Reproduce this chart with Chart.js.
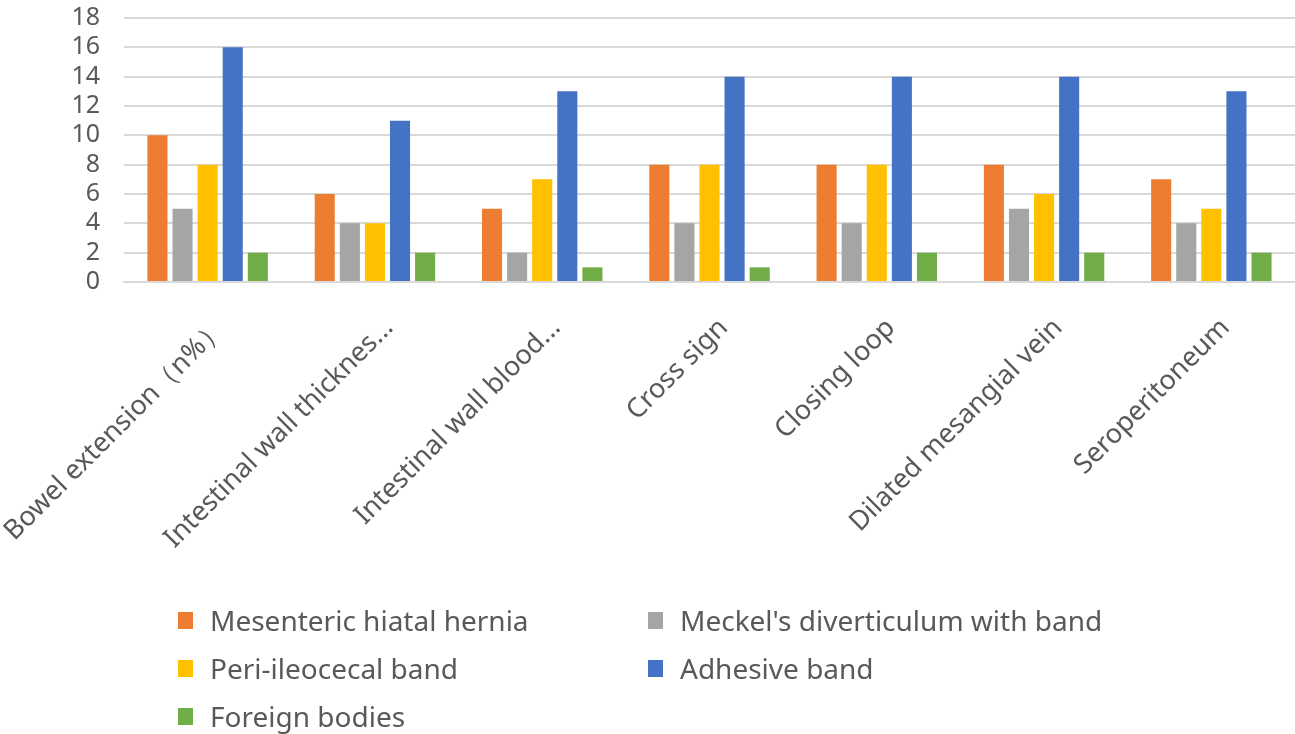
<!DOCTYPE html>
<html>
<head>
<meta charset="utf-8">
<script src="https://cdn.jsdelivr.net/npm/chart.js@4.4.1/dist/chart.umd.min.js"></script>
<style>
  html, body { margin: 0; padding: 0; background: #fff; }
  #wrap { position: relative; width: 1295px; height: 734px; overflow: hidden; }
  #chartBox { position: absolute; left: 0; top: 0; width: 1295px; height: 582px; }
  #legend { position: absolute; left: 0; top: 0; width: 1295px; height: 734px; pointer-events: none; }
  .item { position: absolute; display: flex; align-items: center; font-family: "Noto Sans", sans-serif; font-size: 28px; color: #595959; white-space: nowrap; height: 40px; }
  .swatch { width: 15px; height: 17px; margin-right: 17px; }
</style>
</head>
<body>
<div id="wrap">
  <div id="chartBox"><canvas id="chart"></canvas></div>
  <div id="legend"></div>
</div>
<script>
// categories (x-axis)
const categories = [
  "Bowel extension（n%）",
  "Intestinal wall thicknes...",
  "Intestinal wall blood...",
  "Cross sign",
  "Closing loop",
  "Dilated mesangial vein",
  "Seroperitoneum"
];

// counts per series
const mesentericHernia = [10, 6, 5, 8, 8, 8, 7];
const meckelBand = [5, 4, 2, 4, 4, 5, 4];
const periIleocecal = [8, 4, 7, 8, 8, 6, 5];
const adhesiveBand = [16, 11, 13, 14, 14, 14, 13];
const foreignBodies = [2, 2, 1, 1, 2, 2, 2];

const seriesNames = [
  "Mesenteric hiatal hernia",
  "Meckel's diverticulum with band",
  "Peri-ileocecal band",
  "Adhesive band",
  "Foreign bodies"
];
const seriesData = [mesentericHernia, meckelBand, periIleocecal, adhesiveBand, foreignBodies];
const colors = ["#ED7D31", "#A5A5A5", "#FFC000", "#4472C4", "#70AD47"];

const yTicks = [0, 2, 4, 6, 8, 10, 12, 14, 16, 18];

const FONT = "'Noto Sans', sans-serif";
const GREY_TEXT = "#595959";

const datasets = seriesData.map((d, i) => ({
  label: seriesNames[i],
  data: d,
  backgroundColor: colors[i],
  borderWidth: 0,
  categoryPercentage: 0.75,
  barPercentage: 0.8
}));

new Chart(document.getElementById("chart"), {
  type: "bar",
  data: { labels: categories, datasets: datasets },
  options: {
    responsive: true,
    maintainAspectRatio: false,
    animation: false,
    layout: { padding: { top: 18, right: 0, left: 0, bottom: 0 } },
    plugins: {
      legend: { display: false },
      tooltip: { enabled: false }
    },
    scales: {
      x: {
        grid: { display: false, drawTicks: false },
        border: { display: true, color: "#d9d9d9", width: 2 },
        ticks: {
          color: GREY_TEXT,
          font: { family: FONT, size: 27 },
          minRotation: 45,
          maxRotation: 45,
          autoSkip: false,
          padding: 30,
          labelOffset: 14
        },
        // keep the rotated first label from pushing the plot right
        afterFit: (axis) => {
          axis.height = 300;
          axis.paddingLeft = 0;
          axis.paddingRight = 0;
        }
      },
      y: {
        min: 0,
        max: 18,
        afterBuildTicks: (axis) => { axis.ticks = yTicks.map(v => ({ value: v })); },
        grid: { color: "#d9d9d9", lineWidth: 2, drawTicks: false },
        border: { display: false },
        ticks: {
          color: GREY_TEXT,
          font: { family: FONT, size: 25 },
          autoSkip: false,
          padding: 24
        },
        afterFit: (axis) => {
          axis.width = 124;
          axis.paddingTop = 0;
          axis.paddingBottom = 0;
        }
      }
    }
  }
});

// legend, two columns under the plot
const legendEl = document.getElementById("legend");
const legendPos = [[178, 620], [648, 620], [178, 668], [648, 668], [178, 716]];
seriesNames.forEach((name, i) => {
  const item = document.createElement("div");
  item.className = "item";
  item.style.left = legendPos[i][0] + "px";
  item.style.top = (legendPos[i][1] - 20) + "px";
  item.innerHTML = `<span class="swatch" style="background:${colors[i]}"></span><span>${name}</span>`;
  legendEl.appendChild(item);
});
</script>
</body>
</html>
